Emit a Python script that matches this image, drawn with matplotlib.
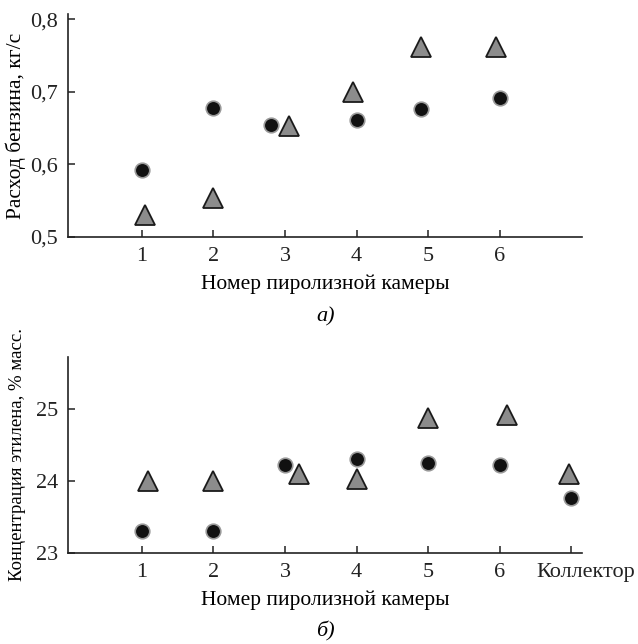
import numpy as np
import matplotlib.pyplot as plt
import matplotlib.transforms as mtransforms

plt.rcParams['font.family'] = ['Liberation Serif', 'DejaVu Serif']

# === Panel a: gasoline flow per pyrolysis chamber ===
a_circ_x = [1.0, 2.0, 2.8, 4.0, 4.9, 6.0]
a_circ_y = [0.592, 0.678, 0.654, 0.661, 0.676, 0.692]
a_tri_x = [1.05, 2.0, 3.05, 3.95, 4.9, 5.95]
a_tri_y = [0.530, 0.554, 0.653, 0.700, 0.762, 0.762]
a_xticks = [1, 2, 3, 4, 5, 6]
a_xticklabels = ['1', '2', '3', '4', '5', '6']
a_yticks = [0.5, 0.6, 0.7, 0.8]
a_yticklabels = ['0,5', '0,6', '0,7', '0,8']

# === Panel b: ethylene concentration ===
b_circ_x = [1.0, 2.0, 3.0, 4.0, 5.0, 6.0, 7.0]
b_circ_y = [23.31, 23.31, 24.22, 24.31, 24.25, 24.22, 23.77]
b_tri_x = [1.08, 2.0, 3.2, 4.0, 5.0, 6.1, 6.97]
b_tri_y = [24.00, 24.00, 24.10, 24.03, 24.88, 24.92, 24.09]
b_xticks = [1, 2, 3, 4, 5, 6, 7]
b_xticklabels = ['1', '2', '3', '4', '5', '6', 'Коллектор']
b_yticks = [23, 24, 25]
b_yticklabels = ['23', '24', '25']

fig = plt.figure(figsize=(6.38, 6.44), dpi=100)
ax1 = fig.add_axes([0.1066, 0.632, 0.806, 0.346])
ax2 = fig.add_axes([0.1066, 0.1413, 0.806, 0.3044])

circ_kw = dict(marker='o', linestyle='none', markersize=10.5, markerfacecolor='#111111',
               markeredgecolor='#999999', markeredgewidth=1.2, zorder=3)
tri_kw = dict(marker='^', linestyle='none', markersize=14, markerfacecolor='#8c8c8c',
              markeredgecolor='#1a1a1a', markeredgewidth=1.3, zorder=3)


def style(ax):
    for s in ['top', 'right']:
        ax.spines[s].set_visible(False)
    for s in ['left', 'bottom']:
        ax.spines[s].set_linewidth(1.2)
        ax.spines[s].set_color('#222222')
    ax.tick_params(direction='in', length=5, width=1.1, labelsize=16, colors='#222222', pad=7)


ax1.plot(a_circ_x, a_circ_y, **circ_kw)
ax1.plot(a_tri_x, a_tri_y, **tri_kw)
ax1.set_xlim(-0.03, 7.15)
ax1.set_ylim(0.5, 0.807)
ax1.set_xticks(a_xticks)
ax1.set_xticklabels(a_xticklabels)
ax1.set_yticks(a_yticks)
ax1.set_yticklabels(a_yticklabels)
ax1.set_xlabel('Номер пиролизной камеры', fontsize=15.5, labelpad=6)
ax1.set_ylabel('Расход бензина, кг/с', fontsize=15.5, labelpad=3)
style(ax1)
ax1.text(0.5, -0.36, 'а)', transform=ax1.transAxes, ha='center', va='center',
         fontsize=16, style='italic')

ax2.plot(b_circ_x, b_circ_y, **circ_kw)
ax2.plot(b_tri_x, b_tri_y, **tri_kw)
ax2.set_xlim(-0.03, 7.15)
ax2.set_ylim(23, 25.72)
ax2.set_xticks(b_xticks)
ax2.set_xticklabels(b_xticklabels)
ax2.set_yticks(b_yticks)
ax2.set_yticklabels(b_yticklabels)
ax2.set_xlabel('Номер пиролизной камеры', fontsize=15.5, labelpad=6)
ax2.set_ylabel('Концентрация этилена, % масс.', fontsize=13.5, labelpad=7)
style(ax2)
# the collector label sits a bit right of its tick
lbl = ax2.get_xticklabels()[-1]
lbl.set_transform(lbl.get_transform() + mtransforms.ScaledTranslation(0.14, 0, fig.dpi_scale_trans))
ax2.text(0.5, -0.4, 'б)', transform=ax2.transAxes, ha='center', va='center',
         fontsize=16, style='italic')

fig.savefig('out.png', dpi=100)
